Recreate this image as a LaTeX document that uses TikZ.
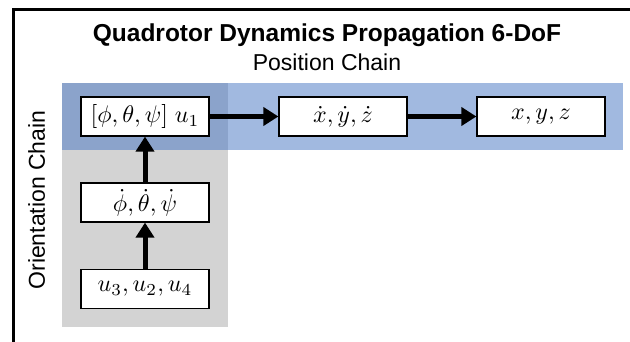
\documentclass[tikz,border=0pt]{standalone}
\usepackage{fontspec}
\setmainfont{Liberation Sans}
\usetikzlibrary{arrows.meta}

\definecolor{bandblue}{RGB}{161,185,224}
\definecolor{bandgray}{RGB}{211,211,211}
\definecolor{bandmix}{RGB}{139,163,203}

% формула в блоке, увеличенная
\newcommand{\statemath}[1]{\scalebox{2.4}{$#1$}}

\tikzset{
  state/.style={draw,line width=1.2pt,fill=white,minimum width=128pt,minimum height=39pt,
    inner sep=0pt},
  flow/.style={line width=5pt,-{Triangle[length=15pt,width=18pt]}},
}

\begin{document}
\begin{tikzpicture}[x=1pt,y=-1pt]
\useasboundingbox (0,0) rectangle (630,342);

% рамка (обрезана справа и снизу)
\draw[line width=3pt] (13.5,342) -- (13.5,9.5) -- (630,9.5);

% полосы цепочек
\fill[bandblue] (62,83) rectangle (623,150);
\fill[bandgray] (62,150) rectangle (228,327);
\fill[bandmix] (62,83) rectangle (228,150);

% заголовки
\node[anchor=base,font=\fontsize{24.5}{28}\selectfont\bfseries] (title) at (327,42) {Quadrotor Dynamics Propagation 6-DoF};
\node[anchor=base,font=\fontsize{23}{28}\selectfont] (pos) at (327,71) {Position Chain};
\node[anchor=base,rotate=90,font=\fontsize{23}{28}\selectfont] (ori) at (45,200) {Orientation Chain};

% состояния
\node[state] (att) at (145,116.5) {\statemath{[\phi,\theta,\psi]\;u_1}};
\node[state] (vel) at (343,116.5) {\statemath{\dot x,\dot y,\dot z}};
\node[state] (xyz) at (541,116.5) {\statemath{x,y,z}};% цепочка положения
\node[state] (rate) at (145,202.5) {\statemath{\dot\phi,\dot\theta,\dot\psi}};
\node[state] (ctrl) at (145,289) {\statemath{u_3,u_2,u_4}};% цепочка ориентации

\draw[flow] (att) -- (vel);
\draw[flow] (vel) -- (xyz);
\draw[flow] (ctrl) -- (rate);
\draw[flow] (rate) -- (att);

\end{tikzpicture}
\end{document}
